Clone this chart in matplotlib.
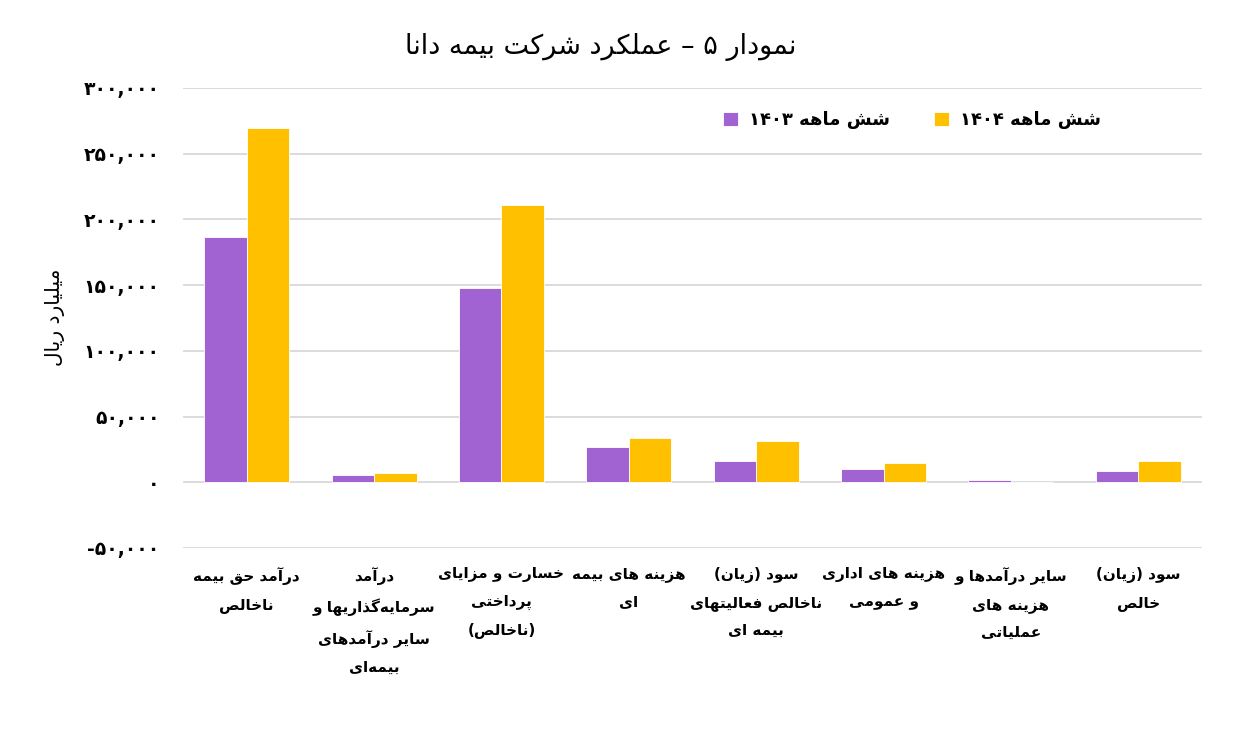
import re

import matplotlib
matplotlib.use('Agg')
import matplotlib.pyplot as plt
import numpy as np
from matplotlib.ticker import FuncFormatter, MultipleLocator

title = 'نمودار ۵ – عملکرد شرکت بیمه دانا'
ylabel = 'میلیارد ریال'
series_names = ['شش ماهه ۱۴۰۳', 'شش ماهه ۱۴۰۴']
categories = [
    'درآمد حق بیمه\nناخالص',
    'درآمد\nسرمایه\u200cگذاریها و\nسایر درآمدهای\nبیمه\u200cای',
    'خسارت و مزایای\nپرداختی\n(ناخالص)',
    'هزینه های بیمه\nای',
    'سود (زیان)\nناخالص فعالیتهای\nبیمه ای',
    'هزینه های اداری\nو عمومی',
    'سایر درآمدها و\nهزینه های\nعملیاتی',
    'سود (زیان)\nخالص',
]
h1403 = [186250, 5600, 147950, 27100, 16500, 10200, 1500, 8900]
h1404 = [269800, 7400, 211000, 33700, 31700, 15000, 0, 16000]

# matplotlib has no arabic shaping, so pick presentation forms by hand
DUAL = {
    'ب': 0xFE8F, 'پ': 0xFB56, 'ت': 0xFE95, 'ث': 0xFE99, 'ج': 0xFE9D, 'چ': 0xFB7A,
    'ح': 0xFEA1, 'خ': 0xFEA5, 'س': 0xFEB1, 'ش': 0xFEB5, 'ص': 0xFEB9, 'ض': 0xFEBD,
    'ط': 0xFEC1, 'ظ': 0xFEC5, 'ع': 0xFEC9, 'غ': 0xFECD, 'ف': 0xFED1, 'ق': 0xFED5,
    'ک': 0xFB8E, 'گ': 0xFB92, 'ل': 0xFEDD, 'م': 0xFEE1, 'ن': 0xFEE5, 'ه': 0xFEE9,
    'ی': 0xFBFC, 'ي': 0xFEF1,
}
RIGHT = {
    'ا': 0xFE8D, 'آ': 0xFE81, 'د': 0xFEA9, 'ذ': 0xFEAB, 'ر': 0xFEAD, 'ز': 0xFEAF,
    'ژ': 0xFB8A, 'و': 0xFEED,
}
FA_DIGITS = str.maketrans('0123456789', '۰۱۲۳۴۵۶۷۸۹')


def shape_line(line):
    out = []
    for i, c in enumerate(line):
        base = DUAL.get(c, RIGHT.get(c))
        if base is None:
            if c != '\u200c':
                out.append(c)
            continue
        prev = line[i - 1] if i > 0 else ''
        nxt = line[i + 1] if i + 1 < len(line) else ''
        join_prev = prev in DUAL
        join_next = c in DUAL and (nxt in DUAL or nxt in RIGHT)
        out.append(chr(base + (1 if join_prev else 0) + (2 if join_next else 0)))
    vis = ''.join(out)[::-1]
    vis = vis.translate(str.maketrans('()', ')('))
    vis = re.sub(r'[0-9۰-۹][0-9۰-۹,.]*', lambda m: m.group(0)[::-1], vis)
    return vis


def fa(text):
    return '\n'.join(shape_line(l) for l in text.split('\n'))


plt.rcParams['font.family'] = ['DejaVu Sans']

fig = plt.figure(figsize=(12.35, 7.42), dpi=100)
ax = fig.add_axes([0.1482, 0.2615, 0.825, 0.620])

x = np.arange(len(categories))
w = 0.334
ax.bar(x - w / 2, h1403, w, color='#A163D1', edgecolor='white', linewidth=0.6,
       label=fa(series_names[0]), zorder=3)
ax.bar(x + w / 2, h1404, w, color='#FFC000', edgecolor='white', linewidth=0.6,
       label=fa(series_names[1]), zorder=3)

ax.set_xlim(-0.5, len(categories) - 0.5)
ax.set_ylim(-50000, 300000)
ax.yaxis.set_major_locator(MultipleLocator(50000))
ax.yaxis.set_major_formatter(FuncFormatter(lambda v, p: f'{v:,.0f}'.translate(FA_DIGITS)))
ax.grid(axis='y', color='#D9D9D9', linewidth=1.3)
ax.set_axisbelow(True)
for s in ax.spines.values():
    s.set_visible(False)
ax.tick_params(length=0)
ax.tick_params(axis='y', pad=17, labelsize=13.5)
for t in ax.get_yticklabels():
    t.set_fontweight('bold')

ax.set_xticks(x)
ax.set_xticklabels([fa(c) for c in categories], fontsize=11, fontweight='bold',
                   linespacing=1.98, va='top')
ax.tick_params(axis='x', pad=14)

ax.legend(loc='center', bbox_to_anchor=(912 / 1235, 1 - 120 / 742),
          bbox_transform=fig.transFigure, ncol=2, frameon=False,
          prop={'size': 13, 'weight': 'bold'}, handlelength=0.85, handleheight=0.85,
          handletextpad=0.6, columnspacing=2.4)

fig.text(601 / 1235, 1 - 47 / 742, fa(title), ha='center', va='center', fontsize=19.5)
fig.text(55 / 1235, 1 - 317 / 742, fa(ylabel), ha='center', va='center',
         rotation=90, fontsize=14.5)

fig.savefig('out.png', dpi=100)
